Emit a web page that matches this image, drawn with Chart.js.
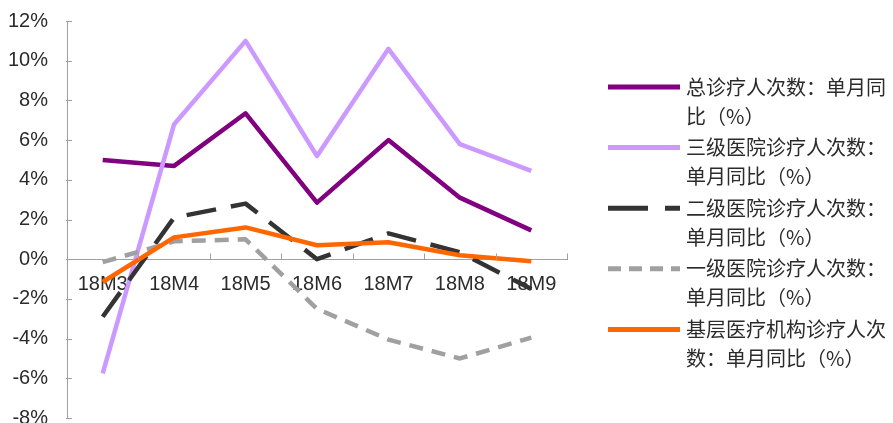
<!DOCTYPE html>
<html>
<head>
<meta charset="utf-8">
<script src="https://cdn.jsdelivr.net/npm/chart.js@4"></script>
<style>
  html, body { margin: 0; padding: 0; background: #fff; overflow: hidden; }
  #wrap { position: relative; width: 893px; height: 430px; }
</style>
</head>
<body>
<div id="wrap"><canvas id="c"></canvas></div>
<script>
// Month labels (year 2018, months 3-9)
const categories = ['18M3', '18M4', '18M5', '18M6', '18M7', '18M8', '18M9'];

// Year-on-year change of outpatient visits, %
const totalVisits   = [5.0, 4.7, 7.35, 2.85, 6.0, 3.1, 1.45];
const tier3Visits   = [-5.75, 6.8, 11.0, 5.2, 10.6, 5.8, 4.45];
const tier2Visits   = [-2.9, 2.1, 2.8, 0.0, 1.3, 0.35, -1.5];
const tier1Visits   = [-0.15, 0.9, 1.0, -2.5, -4.05, -5.0, -3.95];
const primaryVisits = [-1.15, 1.1, 1.6, 0.7, 0.85, 0.2, -0.1];

const seriesLabels = [
  '总诊疗人次数：单月同比（%）',
  '三级医院诊疗人次数：单月同比（%）',
  '二级医院诊疗人次数：单月同比（%）',
  '一级医院诊疗人次数：单月同比（%）',
  '基层医疗机构诊疗人次数：单月同比（%）'
];

// Y axis range
const yMin = -8, yMax = 12, yStep = 2;

const LATIN = '"Liberation Sans", Arial, sans-serif';
const CJK = '"Noto Sans CJK SC", "Noto Sans", sans-serif';

function series(label, data, color, dash, order) {
  return {
    label, data,
    borderColor: color, backgroundColor: color,
    borderWidth: 4.5, borderDash: dash, borderCapStyle: 'butt',
    borderJoinStyle: 'round',
    pointRadius: 0, pointHoverRadius: 0, tension: 0, fill: false,
    order
  };
}

// Small inward tick marks on both axes
const innerTicks = {
  id: 'innerTicks',
  afterDatasetsDraw(chart) {
    const { ctx, chartArea, scales: { x, y } } = chart;
    ctx.save();
    ctx.strokeStyle = '#a0a0a0';
    ctx.lineWidth = 1;
    ctx.beginPath();
    y.ticks.forEach(t => {
      const py = Math.round(y.getPixelForValue(t.value)) + 0.5;
      ctx.moveTo(chartArea.left - 1, py);
      ctx.lineTo(chartArea.left + 5, py);
    });
    const zeroY = Math.round(y.getPixelForValue(0)) + 0.5;
    const half = (x.getPixelForValue(1) - x.getPixelForValue(0)) / 2;
    for (let i = 1; i <= categories.length; i++) {
      const px = Math.round(x.getPixelForValue(i) - half) + 0.5;
      ctx.moveTo(px, zeroY);
      ctx.lineTo(px, zeroY - 6);
    }
    ctx.stroke();
    ctx.restore();
  }
};

// Legend on the right with wrapped labels
const sideLegend = {
  id: 'sideLegend',
  afterDraw(chart) {
    const { ctx } = chart;
    const lineX0 = 608, lineX1 = 680, textX = 686;
    const firstY = 87, itemGap = 60.6, lineH = 29;
    const maxW = chart.width - textX - 2;
    ctx.save();
    ctx.font = '20px ' + CJK;
    ctx.textBaseline = 'middle';
    ctx.textAlign = 'left';
    chart.data.datasets.forEach((ds, i) => {
      const cy = firstY + i * itemGap;
      ctx.strokeStyle = ds.borderColor;
      ctx.lineWidth = 5;
      ctx.lineCap = 'butt';
      ctx.setLineDash(ds.legendDash || []);
      ctx.beginPath();
      ctx.moveTo(lineX0, cy);
      ctx.lineTo(lineX1, cy);
      ctx.stroke();
      ctx.setLineDash([]);
      // wrap characters to the available width
      const lines = [];
      let cur = '';
      for (const ch of ds.label) {
        if (ctx.measureText(cur + ch).width > maxW && cur) {
          lines.push(cur);
          cur = ch;
        } else {
          cur += ch;
        }
      }
      if (cur) lines.push(cur);
      ctx.fillStyle = '#2b2b2b';
      lines.forEach((ln, k) => ctx.fillText(ln, textX, cy + k * lineH));
    });
    ctx.restore();
  }
};

const datasets = [
  series(seriesLabels[0], totalVisits, '#800080', [], 5),
  series(seriesLabels[1], tier3Visits, '#CC99FF', [], 4),
  Object.assign(series(seriesLabels[2], tier2Visits, '#333333', [30, 15], 3), { legendDash: [40, 17] }),
  Object.assign(series(seriesLabels[3], tier1Visits, '#A0A0A0', [14, 9], 2), { legendDash: [13, 8] }),
  series(seriesLabels[4], primaryVisits, '#FF6600', [], 1)
];

new Chart(document.getElementById('c'), {
  type: 'line',
  data: { labels: categories, datasets },
  plugins: [innerTicks, sideLegend],
  options: {
    responsive: true,
    maintainAspectRatio: false,
    animation: false,
    events: [],
    layout: { padding: { left: 8, right: 326, top: 0, bottom: 0 } },
    plugins: { legend: { display: false }, tooltip: { enabled: false } },
    scales: {
      x: {
        type: 'category',
        position: { y: 0 },
        offset: true,
        afterFit: s => { s.height = 0; },
        grid: { display: false, drawTicks: false },
        border: { display: true, color: '#a0a0a0', width: 1 },
        ticks: {
          color: '#2b2b2b',
          font: { family: LATIN, size: 20 },
          padding: 13,
          maxRotation: 0,
          autoSkip: false
        }
      },
      y: {
        min: yMin, max: yMax,
        afterFit: s => { s.width = 59; s.paddingTop = 21; s.paddingBottom = 12; },
        grid: { display: false, drawTicks: false },
        border: { display: true, color: '#a0a0a0', width: 1 },
        ticks: {
          stepSize: yStep,
          color: '#2b2b2b',
          font: { family: LATIN, size: 20 },
          padding: 19,
          callback: v => v + '%'
        }
      }
    }
  }
});
</script>
</body>
</html>
